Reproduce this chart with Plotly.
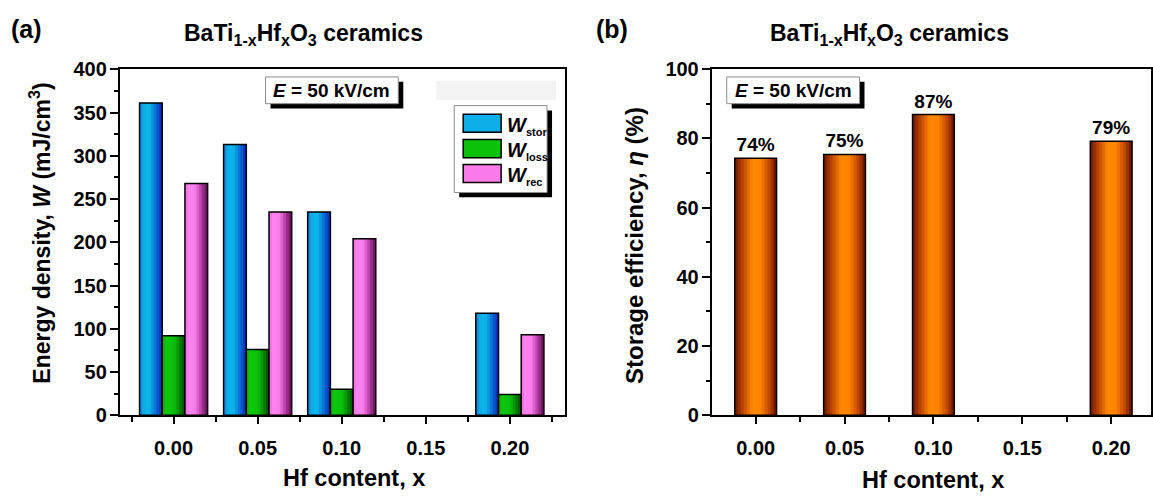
import numpy as np
import plotly.graph_objects as go

# ---------------- data ----------------
hf_content = [0.00, 0.05, 0.10, 0.20]
x_ticks = [0.00, 0.05, 0.10, 0.15, 0.20]
x_ticktext = ["0.00", "0.05", "0.10", "0.15", "0.20"]

w_stor = [361, 313, 235, 118]
w_loss = [92, 76, 30, 24]
w_rec = [268, 235, 204, 93]

efficiency = [74.3, 75.4, 86.9, 79.2]
efficiency_labels = ["74%", "75%", "87%", "79%"]

series_names = ["stor", "loss", "rec"]

# horizontal colour profiles (left edge -> right edge of each bar)
series_profiles = [
    ([0.0, 0.12, 0.4, 0.62, 1.0], ["#1C6ED8", "#10A6E6", "#0CBAEC", "#0A86DC", "#0824B8"]),
    ([0.0, 0.15, 0.5, 0.72, 1.0], ["#10A810", "#0CC80C", "#0CC20C", "#089008", "#024802"]),
    ([0.0, 0.15, 0.45, 0.68, 1.0], ["#E868D8", "#FF84F2", "#FA7CEA", "#C046B0", "#600A52"]),
]
eff_profile = ([0.0, 0.18, 0.42, 0.62, 0.85, 1.0],
               ["#6A1500", "#B84200", "#FF8A00", "#FF8200", "#B84000", "#5A0C00"])

W, H = 1153, 496
FONT = "Liberation Sans, Arial, sans-serif"


def X(px):
    return px / W


def Y(py):
    return 1 - py / H


def hex2rgb(h):
    h = h.lstrip("#")
    return np.array([int(h[i:i + 2], 16) for i in (0, 2, 4)], dtype=float)


def profile_color(profile, t):
    pos, cols = profile
    rgb = np.array([hex2rgb(c) for c in cols])
    r = [np.interp(t, pos, rgb[:, k]) for k in range(3)]
    return "rgb(%d,%d,%d)" % tuple(int(round(v)) for v in r)


def add_gradient_bars(fig, xs, ys, offset, width, profile, xa, ya, n_strips):
    sw = width / n_strips
    for k in range(n_strips):
        t = (k + 0.5) / n_strips
        fig.add_trace(go.Bar(
            x=xs, y=ys, offset=offset + k * sw, width=sw * (1.5 if k < n_strips - 1 else 1.0),
            marker=dict(color=profile_color(profile, t), line=dict(width=0)),
            xaxis=xa, yaxis=ya, showlegend=False, hoverinfo="skip"))
    # outline
    fig.add_trace(go.Bar(
        x=xs, y=ys, offset=offset, width=width,
        marker=dict(color="rgba(0,0,0,0)", line=dict(color="black", width=1.5)),
        xaxis=xa, yaxis=ya, showlegend=False))


fig = go.Figure()

group_w = 0.0405
bar_w = group_w / 3
for i, (vals, prof) in enumerate(zip([w_stor, w_loss, w_rec], series_profiles)):
    add_gradient_bars(fig, hf_content, vals, -group_w / 2 + i * bar_w, bar_w, prof, "x", "y", 8)

eff_w = 0.0235
add_gradient_bars(fig, hf_content, efficiency, -eff_w / 2, eff_w, eff_profile, "x2", "y2", 14)
fig.add_trace(go.Bar(
    x=hf_content, y=efficiency, offset=-eff_w / 2, width=eff_w, text=efficiency_labels,
    textposition="outside", texttemplate="<b>%{text}</b>",
    textfont=dict(size=19, color="black", family=FONT), cliponaxis=False,
    marker=dict(color="rgba(0,0,0,0)", line=dict(width=0)),
    xaxis="x2", yaxis="y2", showlegend=False, hoverinfo="skip"))

axis_common = dict(
    showline=True, linecolor="black", linewidth=2, mirror=True, ticks="outside",
    tickwidth=1.5, tickcolor="black", showgrid=False, zeroline=False,
)

fig.update_layout(
    width=W, height=H,
    margin=dict(l=0, r=0, t=0, b=0),
    paper_bgcolor="white", plot_bgcolor="white",
    barmode="overlay",
    font=dict(family=FONT, color="black"),
    xaxis=dict(domain=[X(120), X(566)], range=[-0.0320, 0.2328], tickvals=x_ticks,
               ticktext=["<b>%s</b>" % t for t in x_ticktext], ticklen=7, ticklabelstandoff=7,
               tickfont=dict(size=20, color="black", family=FONT),
               minor=dict(dtick=0.025, tick0=0, ticks="outside", ticklen=5, tickcolor="black"),
               anchor="y", **axis_common),
    yaxis=dict(domain=[Y(423), Y(61)], range=[0, 400], tickvals=list(range(0, 401, 50)),
               ticktext=["<b>%d</b>" % v for v in range(0, 401, 50)], ticklen=8,
               ticklabelstandoff=-1,
               tickfont=dict(size=20, color="black", family=FONT),
               minor=dict(dtick=25, ticks="outside", ticklen=4, tickcolor="black"),
               anchor="x", **axis_common),
    xaxis2=dict(domain=[X(713), 1.0], range=[-0.0247, 0.2224], tickvals=x_ticks,
                ticktext=["<b>%s</b>" % t for t in x_ticktext], ticklen=7, ticklabelstandoff=7,
                tickfont=dict(size=20, color="black", family=FONT),
                minor=dict(dtick=0.025, tick0=0, ticks="outside", ticklen=5, tickcolor="black"),
                anchor="y2", **axis_common),
    yaxis2=dict(domain=[Y(423), Y(61)], range=[0, 100], tickvals=list(range(0, 101, 20)),
                ticktext=["<b>%d</b>" % v for v in range(0, 101, 20)], ticklen=8,
                ticklabelstandoff=-1,
                tickfont=dict(size=20, color="black", family=FONT),
                minor=dict(dtick=10, ticks="outside", ticklen=4, tickcolor="black"),
                anchor="x2", **axis_common),
)

shapes = []
ann = []

# faint grey strip in panel (a)
shapes.append(dict(type="rect", xref="paper", yref="paper", x0=X(437), x1=X(557), y0=Y(93), y1=Y(73),
                   fillcolor="#F3F3F3", line=dict(width=0), layer="below"))


def shadow_box(x0, y0, x1, y1, off=5):
    shapes.append(dict(type="rect", xref="paper", yref="paper", x0=X(x0 + off), x1=X(x1 + off),
                       y0=Y(y1 + off), y1=Y(y0 + off), fillcolor="black", line=dict(width=0)))
    shapes.append(dict(type="rect", xref="paper", yref="paper", x0=X(x0), x1=X(x1),
                       y0=Y(y1), y1=Y(y0), fillcolor="white", line=dict(color="#8C8C8C", width=1)))


# E-field boxes
shadow_box(266, 69, 399, 97)
ann.append(dict(x=X(332), y=Y(83), text="<b><i>E</i> = 50 kV/cm</b>", font=dict(size=19)))
shadow_box(728, 69, 861, 97)
ann.append(dict(x=X(795), y=Y(83), text="<b><i>E</i> = 50 kV/cm</b>", font=dict(size=19)))

# custom legend
shadow_box(455, 99, 548, 190)
rows = [117.5, 144, 170]
for yc, name, prof in zip(rows, series_names, series_profiles):
    shapes.append(dict(type="rect", xref="paper", yref="paper", x0=X(464), x1=X(502),
                       y0=Y(yc + 9.5), y1=Y(yc - 9.5), fillcolor=profile_color(prof, 0.45),
                       line=dict(color="black", width=1.5)))
    ann.append(dict(x=X(506), y=Y(yc + 3), xanchor="left",
                    text="<b><i>W</i><sub><span style='font-size:11px'>%s</span></sub></b>" % name,
                    font=dict(size=20)))

# titles and panel labels
title = "<b>BaTi<sub>1-x</sub>Hf<sub>x</sub>O<sub>3</sub> ceramics</b>"
ann.append(dict(x=X(304), y=Y(25), text=title, font=dict(size=23)))
ann.append(dict(x=X(891), y=Y(25), text=title, font=dict(size=23)))
ann.append(dict(x=X(27), y=Y(19), text="<b>(a)</b>", font=dict(size=25)))
ann.append(dict(x=X(613), y=Y(19), text="<b>(b)</b>", font=dict(size=25)))

# axis titles
ann.append(dict(x=X(355), y=Y(489), text="<b>Hf content, x</b>", font=dict(size=23.5)))
ann.append(dict(x=X(935), y=Y(491), text="<b>Hf content, x</b>", font=dict(size=23.5)))
ann.append(dict(x=X(40), y=Y(232), textangle=-90,
                text="<b>Energy density, <i>W</i> (mJ/cm<sup>3</sup>)</b>", font=dict(size=23)))
ann.append(dict(x=X(635), y=Y(245), textangle=-90,
                text="<b>Storage efficiency, <i>η</i> (%)</b>", font=dict(size=24)))

for a in ann:
    a.setdefault("xref", "paper")
    a.setdefault("yref", "paper")
    a.setdefault("showarrow", False)
    a.setdefault("xanchor", "center")
    a.setdefault("yanchor", "middle")
    a["font"] = dict(family=FONT, color="black", **a["font"])

fig.update_layout(shapes=shapes, annotations=ann)

fig.write_html("out.html")
